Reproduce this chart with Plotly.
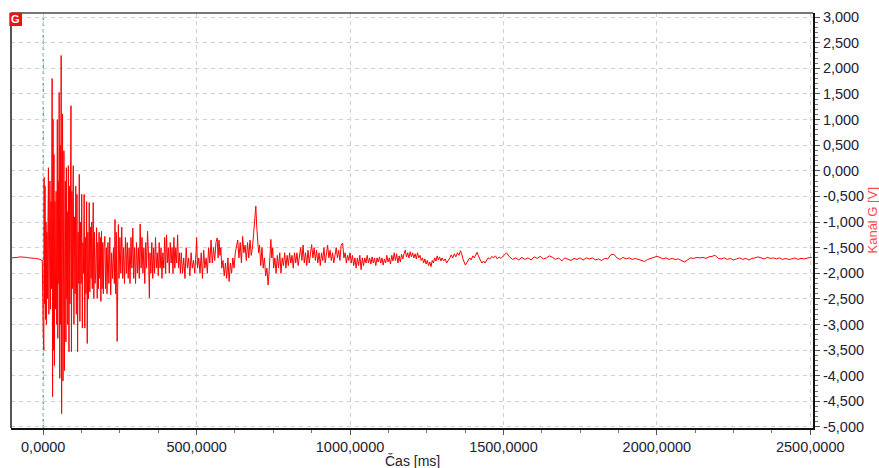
import plotly.graph_objects as go

# ---------------- data ----------------
# pre-trigger
t_pre = [-105, -95, -85, -75, -65, -55, -45, -35, -25, -15, -8, -3]
v_pre = [-1.70, -1.70, -1.69, -1.68, -1.68, -1.69, -1.70, -1.70, -1.71, -1.72, -1.74, -1.75]

# burst 0..200 ms
t_burst = [0, 1, 2, 3, 4.5, 6, 7.5, 9, 10.5, 12,
           13.5, 15, 17, 18.5, 20, 22, 23.5, 25, 27, 29,
           30.5, 32, 33.5, 35, 36.5, 38, 40, 42, 44, 46,
           47.5, 49, 50.5, 52, 54, 55.5, 57, 58.5, 60, 61.5,
           63, 64.5, 66, 67.5, 69, 70.5, 72, 74, 75.5, 77,
           78.5, 80, 82, 84, 85.5, 87, 89, 90.5, 92, 93.5,
           95, 96.5, 98, 100, 102, 104, 106, 108, 110, 112,
           114, 116, 117.5, 119.5, 121.5, 123.5, 125.5, 127.5, 129.5, 131.5,
           133.5, 135.5, 137.5, 139.5, 141.5, 143.5, 145.5, 147.5, 150, 152,
           154, 156, 158, 160, 163, 165, 167, 169, 171, 174,
           176, 178, 180, 182, 184, 186, 188, 190, 192, 194,
           196, 198]
v_burst = [-3.2, -0.7, -3.5, -0.13, -2.6, -0.3, -2.9, -1.0, -3.0, -1.2,
           -2.5, -0.5, 0.06, -2.8, -1.0, -0.2, -2.7, -0.6, -2.3, 1.8,
           -4.41, 1.0, -3.5, 0.32, -3.8, -0.6, -2.7, -0.4, -3.0, 1.0,
           -3.27, -0.2, -2.2, 1.53, -4.05, 0.5, -3.0, 2.25, -4.74, -1.0,
           1.11, -4.1, -0.5, 0.39, -3.9, -1.0, -0.2, -3.34, 0.06, -2.5,
           -0.8, -3.0, 0.1, -3.53, -0.3, -2.6, -0.9, 1.27, -3.53, -0.4,
           -2.3, -0.6, 0.1, -3.0, -0.9, -2.4, -0.3, -2.8, -0.46, -3.53,
           -1.2, -2.2, -0.07, -2.94, -1.0, -2.2, -0.46, -3.07, -1.4, -2.0,
           -0.46, -3.07, -1.3, -2.4, -0.6, -3.37, -1.2, -2.5, -0.62, -2.36,
           -1.1, -2.1, -1.0, -2.3, -0.62, -2.49, -1.2, -2.2, -2.0, -1.11,
           -2.49, -1.4, -2.3, -1.2, -2.1, -1.3, -2.55, -1.18, -2.3, -1.4,
           -2.4, -1.5]

# coda 200..450 ms
t_coda = [201, 203, 206, 208, 211, 214, 217, 220, 223, 226,
          229, 232, 234, 236, 238, 241, 243, 245, 247, 250,
          253, 256, 259, 262, 265, 268, 271, 274, 277, 280,
          283, 286, 289, 292, 295, 298, 301, 304, 307, 310,
          313, 316, 319, 322, 325, 328, 331, 334, 337, 340,
          343, 346, 348, 351, 354, 357, 360, 363, 366, 369,
          372, 375, 378, 381, 384, 387, 390, 393, 396, 399,
          402, 405, 408, 411, 414, 417, 420, 423, 426, 429,
          432, 435, 438, 441, 444, 447]
v_coda = [-1.28, -2.3, -1.5, -2.4, -1.4, -2.2, -1.3, -2.42, -1.6, -2.1,
          -1.5, -2.2, -0.95, -2.4, -1.2, -3.33, -1.6, -1.05, -2.1, -1.3,
          -2.0, -1.1, -2.1, -1.5, -2.2, -1.3, -2.0, -1.4, -2.1, -1.5,
          -2.2, -1.3, -1.9, -1.12, -2.1, -1.5, -2.2, -1.4, -2.0, -1.5,
          -2.1, -1.04, -1.9, -1.3, -2.0, -1.5, -2.2, -1.4, -1.9, -1.18,
          -1.6, -2.48, -1.6, -2.0, -1.4, -2.1, -1.5, -2.0, -1.3, -1.9,
          -1.6, -2.05, -1.4, -1.9, -1.5, -2.1, -1.6, -1.9, -1.3, -2.0,
          -1.25, -1.8, -1.5, -2.0, -1.4, -1.8, -1.5, -2.0, -1.3, -1.9,
          -1.5, -1.8, -1.25, -1.9, -1.6, -2.0]

# decay 450..1100 ms
t_decay = [450, 454, 458, 462, 466, 470, 474, 478, 482, 486,
           490, 494, 498, 500, 503, 507, 511, 515, 519, 523,
           527, 531, 535, 539, 543, 547, 551, 555, 559, 563,
           567, 570, 573, 576, 579, 582, 586, 590, 594, 598,
           602, 606, 610, 614, 618, 622, 626, 630, 634, 638,
           642, 646, 650, 654, 658, 662, 666, 670, 674, 678,
           682, 686, 689, 693, 696, 699, 702, 705, 709, 713,
           717, 721, 725, 729, 733, 736, 739, 742, 745, 748,
           751, 755, 759, 763, 767, 771, 775, 779, 783, 787,
           791, 795, 799, 803, 807, 811, 815, 819, 823, 827,
           831, 835, 839, 843, 847, 851, 855, 859, 863, 867,
           871, 875, 879, 883, 887, 891, 895, 899, 903, 907,
           911, 915, 919, 923, 927, 931, 935, 939, 943, 947,
           951, 955, 959, 963, 967, 971, 976, 980, 984, 988,
           992, 996, 1000, 1004, 1008, 1012, 1016, 1020, 1024, 1028,
           1032, 1036, 1040, 1044, 1048, 1052, 1056, 1060, 1064, 1068,
           1072, 1076, 1080, 1084, 1088, 1092, 1096]
v_decay = [-1.6, -2.0, -1.7, -2.1, -1.5, -1.9, -1.7, -2.05, -1.6, -1.9,
           -1.75, -2.0, -1.6, -1.3, -1.9, -1.7, -2.0, -1.6, -2.1, -1.55,
           -1.9, -1.7, -2.0, -1.5, -1.8, -1.35, -1.8, -1.5, -1.75, -1.4,
           -1.31, -1.7, -1.35, -1.65, -1.5, -1.9, -1.75, -2.05, -1.8, -2.1,
           -1.7, -2.16, -1.8, -2.0, -1.7, -1.9, -1.6, -1.5, -1.35, -1.7,
           -1.4, -1.8, -1.28, -1.6, -1.45, -1.75, -1.4, -1.7, -1.35, -1.65,
           -1.5, -1.2, -1.0, -0.69, -1.1, -1.4, -1.6, -1.45, -1.85, -1.5,
           -1.9, -1.7, -2.05, -1.9, -2.23, -2.0, -1.6, -1.34, -1.7, -1.5,
           -1.9, -1.7, -2.0, -1.65, -1.9, -1.6, -2.0, -1.7, -1.85, -1.6,
           -1.9, -1.65, -1.85, -1.6, -1.8, -1.65, -1.9, -1.6, -1.8, -1.6,
           -1.85, -1.65, -1.5, -1.75, -1.45, -1.8, -1.6, -1.85, -1.55, -1.8,
           -1.6, -1.44, -1.7, -1.5, -1.75, -1.55, -1.8, -1.6, -1.85, -1.6,
           -1.75, -1.5, -1.8, -1.6, -1.45, -1.7, -1.55, -1.75, -1.6, -1.8,
           -1.65, -1.5, -1.7, -1.55, -1.75, -1.45, -1.41, -1.7, -1.6, -1.8,
           -1.65, -1.75, -1.6, -1.8, -1.65, -1.85, -1.7, -1.9, -1.7, -1.85,
           -1.65, -1.93, -1.7, -1.85, -1.7, -1.8, -1.65, -1.8, -1.7, -1.82,
           -1.68, -1.8, -1.7, -1.85, -1.7, -1.78, -1.68]

# settling 1100..1500 ms
t_settle = [1100, 1104, 1108, 1112, 1116, 1120, 1124, 1128, 1132, 1136,
            1140, 1144, 1148, 1152, 1156, 1160, 1164, 1168, 1172, 1176,
            1180, 1184, 1188, 1192, 1196, 1200, 1204, 1208, 1212, 1216,
            1220, 1224, 1228, 1232, 1236, 1240, 1244, 1248, 1252, 1256,
            1260, 1264, 1268, 1272, 1276, 1280, 1284, 1288, 1292, 1296,
            1300, 1305, 1310, 1315, 1320, 1325, 1330, 1335, 1340, 1345,
            1350, 1355, 1360, 1364, 1368, 1372, 1376, 1380, 1385, 1390,
            1395, 1400, 1405, 1410, 1414, 1418, 1422, 1426, 1430, 1435,
            1440, 1445, 1450, 1456, 1462, 1468, 1474, 1480, 1486, 1492,
            1498]
v_settle = [-1.8, -1.7, -1.84, -1.72, -1.8, -1.65, -1.78, -1.7, -1.82, -1.65,
            -1.76, -1.6, -1.75, -1.62, -1.8, -1.66, -1.78, -1.63, -1.72, -1.62,
            -1.55, -1.68, -1.6, -1.7, -1.58, -1.68, -1.6, -1.7, -1.62, -1.72,
            -1.6, -1.7, -1.65, -1.75, -1.7, -1.8, -1.72, -1.82, -1.75, -1.85,
            -1.78, -1.87, -1.75, -1.8, -1.7, -1.76, -1.66, -1.74, -1.68, -1.76,
            -1.7, -1.76, -1.72, -1.8, -1.76, -1.7, -1.64, -1.7, -1.62, -1.68,
            -1.6, -1.65, -1.56, -1.62, -1.72, -1.78, -1.84, -1.8, -1.76, -1.7,
            -1.74, -1.66, -1.7, -1.63, -1.59, -1.65, -1.72, -1.76, -1.8, -1.76,
            -1.8, -1.74, -1.7, -1.72, -1.67, -1.7, -1.66, -1.72, -1.68, -1.71,
            -1.67]

# tail 1500..2505 ms
t_tail = [1510, 1520, 1530, 1540, 1550, 1560, 1570, 1580, 1590, 1600,
          1610, 1620, 1630, 1640, 1650, 1660, 1670, 1680, 1690, 1700,
          1710, 1720, 1730, 1740, 1750, 1760, 1770, 1780, 1790, 1800,
          1810, 1820, 1830, 1840, 1850, 1860, 1870, 1880, 1890, 1900,
          1910, 1920, 1930, 1940, 1950, 1960, 1970, 1980, 1990, 2000,
          2010, 2020, 2030, 2040, 2050, 2060, 2070, 2080, 2090, 2100,
          2110, 2120, 2130, 2140, 2150, 2160, 2170, 2180, 2190, 2200,
          2210, 2220, 2230, 2240, 2250, 2260, 2270, 2280, 2290, 2300,
          2310, 2320, 2330, 2340, 2350, 2360, 2370, 2380, 2390, 2400,
          2410, 2420, 2430, 2440, 2450, 2460, 2470, 2480, 2490, 2500,
          2505]
v_tail = [-1.6, -1.68, -1.73, -1.7, -1.74, -1.69, -1.73, -1.7, -1.74, -1.68,
          -1.71, -1.67, -1.72, -1.7, -1.66, -1.69, -1.73, -1.7, -1.76, -1.7,
          -1.72, -1.75, -1.71, -1.73, -1.7, -1.74, -1.7, -1.72, -1.7, -1.74,
          -1.72, -1.75, -1.71, -1.72, -1.64, -1.63, -1.7, -1.73, -1.69, -1.72,
          -1.7, -1.73, -1.71, -1.73, -1.76, -1.77, -1.73, -1.71, -1.69, -1.67,
          -1.69, -1.72, -1.7, -1.73, -1.71, -1.73, -1.72, -1.75, -1.78, -1.74,
          -1.7, -1.71, -1.69, -1.7, -1.69, -1.71, -1.68, -1.67, -1.65, -1.71,
          -1.72, -1.7, -1.73, -1.71, -1.74, -1.72, -1.7, -1.73, -1.71, -1.74,
          -1.71, -1.7, -1.68, -1.7, -1.72, -1.69, -1.71, -1.7, -1.72, -1.7,
          -1.73, -1.71, -1.73, -1.72, -1.7, -1.73, -1.71, -1.72, -1.7, -1.69,
          -1.69]

segments = [(t_pre, v_pre), (t_burst, v_burst), (t_coda, v_coda),
            (t_decay, v_decay), (t_settle, v_settle), (t_tail, v_tail)]
time_ms, kanal_g = [], []
for ts, vs in segments:
    assert len(ts) == len(vs), (len(ts), len(vs))
    time_ms += ts
    kanal_g += vs

x_tick_vals = [0, 500, 1000, 1500, 2000, 2500]
x_tick_text = ["0,0000", "500,0000", "1000,0000", "1500,0000", "2000,0000", "2500,0000"]
y_tick_vals = [3.0, 2.5, 2.0, 1.5, 1.0, 0.5, 0.0, -0.5, -1.0, -1.5, -2.0,
               -2.5, -3.0, -3.5, -4.0, -4.5, -5.0]
y_tick_text = ["3,000", "2,500", "2,000", "1,500", "1,000", "0,500", "0,000",
               "-0,500", "-1,000", "-1,500", "-2,000", "-2,500", "-3,000",
               "-3,500", "-4,000", "-4,500", "-5,000"]

# ---------------- figure ----------------
FONT = "Liberation Sans, Arial, sans-serif"
TXT = "#222233"
GRID = "#cfcfcf"

fig = go.Figure()
fig.add_trace(go.Scatter(x=time_ms, y=kanal_g, mode="lines",
                         line=dict(color="#ff0000", width=1), hoverinfo="skip"))

fig.update_layout(
    width=879, height=468,
    margin=dict(l=11, r=66, t=13, b=40, pad=0),
    paper_bgcolor="white", plot_bgcolor="white",
    template="none", showlegend=False,
    xaxis=dict(range=[-105, 2509], tickmode="array", tickvals=x_tick_vals,
               ticktext=x_tick_text, ticks="outside", ticklen=5, tickwidth=1,
               tickcolor="#555", showline=True, linecolor="#111", linewidth=2,
               showgrid=True, gridcolor=GRID, griddash="4px,4px", gridwidth=1,
               zeroline=False, tickfont=dict(family=FONT, size=14.5, color=TXT),
               minor=dict(tickmode="linear", tick0=0, dtick=125, ticks="outside",
                          ticklen=3, tickcolor="#777", showgrid=False)),
    yaxis=dict(side="right", range=[-5.02, 3.08], tickmode="array",
               tickvals=y_tick_vals, ticktext=y_tick_text, ticks="outside",
               ticklen=5, tickwidth=1, tickcolor="#555", showline=True,
               linecolor="#111", linewidth=2, showgrid=True, gridcolor=GRID,
               griddash="4px,4px", gridwidth=1, zeroline=False,
               tickfont=dict(family=FONT, size=14.5, color=TXT),
               minor=dict(tickmode="linear", tick0=0, dtick=0.1, ticks="outside",
                          ticklen=3, tickcolor="#777", showgrid=False)),
)

# trigger line at 0 ms
fig.add_shape(type="line", xref="x", yref="paper", x0=0, x1=0, y0=0, y1=1,
              line=dict(color="#2a8585", width=1, dash="3px,3px"), layer="between")
# top and left frame
fig.add_shape(type="line", xref="paper", yref="paper", x0=0, x1=1, y0=1, y1=1,
              line=dict(color="#777777", width=2))
fig.add_shape(type="line", xref="paper", yref="paper", x0=0, x1=0, y0=0, y1=1,
              line=dict(color="#555555", width=2))
# channel badge
fig.add_shape(type="rect", xref="paper", yref="paper", x0=-0.0021, x1=0.0137,
              y0=0.9687, y1=1.0007, line=dict(width=0), fillcolor="#ee1111")
fig.add_annotation(xref="paper", yref="paper", x=0.0057, y=0.9846, text="<b>G</b>",
                   showarrow=False, font=dict(family=FONT, size=11, color="white"),
                   xanchor="center", yanchor="middle")
# axis titles
fig.add_annotation(xref="paper", yref="paper", x=0.5, y=-0.0795, text="Čas [ms]",
                   showarrow=False, font=dict(family=FONT, size=14, color=TXT),
                   xanchor="center", yanchor="middle")
fig.add_annotation(xref="paper", yref="paper", x=1.0748, y=0.5, text="Kanál G [V]",
                   textangle=-90, showarrow=False,
                   font=dict(family=FONT, size=13, color="#ff4a4a"),
                   xanchor="center", yanchor="middle")

fig.write_html("out.html")
